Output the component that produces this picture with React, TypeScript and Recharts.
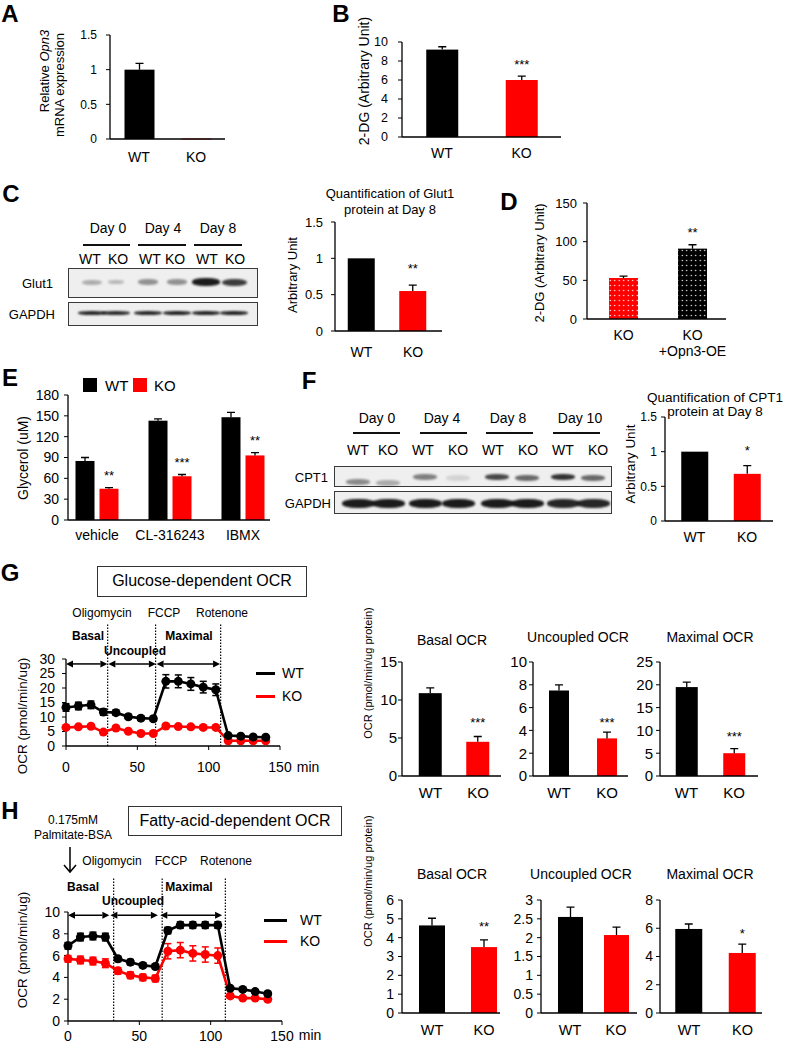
import React from 'react'
import { BarChart, Bar, XAxis, YAxis, LineChart, Line, ErrorBar, ReferenceLine } from 'recharts'

const FONT = '"Liberation Sans", Arial, Helvetica, sans-serif'
const RED = '#ff0000'
const BLACK = '#000000'

// ---------- data ----------
const genotypes = ['WT', 'KO']
const genoFills = [BLACK, RED]

// A
const opn3Values = [1.0, 0.006]
const opn3Errors = [0.09, 0]
const opn3Sig = ['', '']
const ticksA = [0, 0.5, 1, 1.5]

// B
const dgValues = [9.2, 6.0]
const dgErrors = [0.3, 0.4]
const dgSig = ['', '***']
const ticksB = [0, 2, 4, 6, 8, 10]

// C
const glut1Days = ['Day 0', 'Day 4', 'Day 8']
const glut1Values = [1.0, 0.55]
const glut1Errors = [0, 0.08]
const glut1Sig = ['', '**']
const glut1Bands = [0.3, 0.25, 0.42, 0.42, 0.95, 0.8]
const gapdhBandsC = [0.9, 0.88, 0.9, 0.92, 0.92, 0.92]

// D
const oeGroups = ['KO', 'KO\n+Opn3-OE']
const oeValues = [53, 91]
const oeErrors = [2.5, 5]
const oeSig = ['', '**']
const ticksD = [0, 50, 100, 150]

// E
const treatments = ['vehicle', 'CL-316243', 'IBMX']
const glycerolWT = [85, 143, 148]
const glycerolWTErr = [5, 2.5, 7]
const glycerolKO = [45, 63, 93]
const glycerolKOErr = [1.5, 2.5, 4]
const glycerolSig = ['**', '***', '**']
const ticksE = [0, 30, 60, 90, 120, 150, 180]

// F
const cpt1Days = ['Day 0', 'Day 4', 'Day 8', 'Day 10']
const cpt1Values = [1.0, 0.68]
const cpt1Errors = [0, 0.12]
const cpt1Sig = ['', '*']
const cpt1Bands = [0.45, 0.3, 0.5, 0.12, 0.75, 0.6, 0.85, 0.6]
const gapdhBandsF = [0.95, 0.95, 0.95, 0.95, 0.95, 0.95, 0.9, 0.9]

// G / H time course
const injections = ['Oligomycin', 'FCCP', 'Rotenone']
const phases = ['Basal', 'Uncoupled', 'Maximal']
const minutes = [0, 8.7, 17.5, 26.2, 35, 43.7, 52.5, 61.2, 70, 78.7, 87.5, 96.2, 105, 113.7, 122.5, 131.2, 140]
const ticksTime = [0, 50, 100, 150]

const glcWT = [13.3, 13.8, 14.2, 11.7, 11.5, 10.1, 9.6, 9.4, 22.3, 22.3, 21.4, 20.3, 19.4, 3.6, 3.4, 3.1, 3.0]
const glcWTErr = [1.3, 1.3, 1.3, 1.1, 0.9, 0.8, 0.8, 0.8, 2.3, 2.2, 2.2, 2.0, 2.0, 0.6, 0.5, 0.5, 0.5]
const glcKO = [6.4, 6.6, 6.8, 4.8, 6.2, 5.1, 4.3, 4.3, 6.9, 6.7, 6.6, 6.4, 6.4, 1.8, 1.8, 1.8, 1.8]
const glcKOErr = [0.5, 0.5, 0.5, 0.5, 0.5, 0.5, 0.5, 0.5, 0.6, 0.6, 0.6, 0.6, 0.6, 0.4, 0.4, 0.4, 0.4]
const glcInjectAt = [29.2, 62.8, 108.4]
const glcPhaseSpans = [[0, 29], [29.7, 63], [63.5, 108]]
const ticksGline = [0, 5, 10, 15, 20, 25, 30]

const glcBasal = [10.9, 4.5]
const glcBasalErr = [0.7, 0.7]
const glcUncoupled = [7.5, 3.3]
const glcUncoupledErr = [0.5, 0.55]
const glcMaximal = [19.5, 5.0]
const glcMaximalErr = [1.1, 1.0]
const glcSig = ['', '***']

const faWT = [6.9, 7.7, 7.8, 7.7, 5.7, 5.4, 5.1, 5.0, 8.3, 8.8, 8.8, 8.8, 8.8, 3.0, 2.9, 2.7, 2.5]
const faWTErr = [0.3, 0.35, 0.35, 0.35, 0.25, 0.25, 0.2, 0.2, 0.3, 0.3, 0.3, 0.3, 0.3, 0.15, 0.15, 0.15, 0.15]
const faKO = [5.7, 5.6, 5.5, 5.3, 4.6, 4.2, 4.0, 3.9, 6.4, 6.5, 6.2, 6.1, 6.0, 2.3, 2.1, 2.1, 2.0]
const faKOErr = [0.3, 0.35, 0.35, 0.4, 0.3, 0.3, 0.3, 0.3, 0.7, 0.7, 0.7, 0.7, 0.7, 0.2, 0.15, 0.15, 0.15]
const faInjectAt = [32, 66, 110.3]
const faPhaseSpans = [[0, 29], [29.7, 63], [64.7, 108]]
const ticksHline = [0, 2, 4, 6, 8, 10]

const faBasal = [4.65, 3.5]
const faBasalErr = [0.38, 0.38]
const faUncoupled = [2.55, 2.07]
const faUncoupledErr = [0.26, 0.21]
const faMaximal = [5.95, 4.25]
const faMaximalErr = [0.35, 0.63]
const faSig = ['', '**']
const faSigUnc = ['', '']
const faSigMax = ['', '*']

const ticks15 = [0, 5, 10, 15]
const ticks10 = [0, 2, 4, 6, 8, 10]
const ticks25 = [0, 5, 10, 15, 20, 25]
const ticks6 = [0, 1, 2, 3, 4, 5, 6]
const ticks3 = [0, 0.5, 1, 1.5, 2, 2.5, 3]
const ticks8 = [0, 2, 4, 6, 8]

// ---------- helpers ----------
type Row = { name: string; value: number; err: number; sig: string; fill: string }

function makeRows(names: string[], values: number[], errs: number[], sigs: string[], fills: string[]): Row[] {
  return names.map((name, i) => ({ name, value: values[i], err: errs[i], sig: sigs[i], fill: fills[i] }))
}

function T({ x, y, s = 13, b = false, a = 'middle', r = false, children }: any) {
  const tx = a === 'middle' ? '-50%' : a === 'end' ? '-100%' : '0'
  return (
    <div
      style={{
        position: 'absolute',
        left: x,
        top: y,
        transform: `translate(${tx}, -50%)${r ? ' rotate(-90deg)' : ''}`,
        fontSize: s,
        fontWeight: b ? 700 : 400,
        lineHeight: 1,
        whiteSpace: 'nowrap',
      }}
    >
      {children}
    </div>
  )
}

function drawBar(valueKey: string, errKey: string, sigKey: string, fill: string | null, starGap: number) {
  return (p: any) => {
    const x = Number(p.x)
    const y = Number(p.y)
    const w = Number(p.width)
    const h = Number(p.height)
    const row = p.payload || {}
    const v = row[valueKey]
    const e = row[errKey] || 0
    const ePx = v > 0 ? (e / v) * h : 0
    const cx = x + w / 2
    const top = y - ePx
    return (
      <g>
        <rect x={x} y={y} width={w} height={Math.max(h, 0.8)} fill={fill ?? row.fill} />
        {e > 0 && (
          <path d={`M${cx},${y}V${top}M${cx - 4},${top}H${cx + 4}`} stroke="#000" strokeWidth={1.3} fill="none" />
        )}
        {row[sigKey] ? (
          <text x={cx} y={top - starGap + 7.5} textAnchor="middle" fontSize={13} fill="#000" fontFamily={FONT}>
            {row[sigKey]}
          </text>
        ) : null}
      </g>
    )
  }
}

const multiTick = (size: number) => (p: any) => {
  const lines = String(p.payload.value).split('\n')
  return (
    <text x={p.x} y={p.y} textAnchor="middle" fontSize={size} fill="#000" fontFamily={FONT}>
      {lines.map((l, i) => (
        <tspan key={i} x={p.x} dy={i === 0 ? '0.71em' : '1.15em'}>
          {l}
        </tspan>
      ))}
    </text>
  )
}

const axisStyle = { stroke: '#000', strokeWidth: 1.3 }

function BarPanel({ plot, centers, rows, domain, ticks, barSize, tickFont = 12, tickGap = 10, catFont = 14, catGap = 11, starGap = 15, defs = null }: any) {
  const [x0, x1, y0, y1] = plot
  const YW = 60, TOP = 30, RIGHT = 24, XH = 46
  const step = (centers[1] - centers[0]) / (rows.length - 1)
  const start = centers[0] - step / 2
  const padL = start - x0
  const padR = x1 - (start + step * rows.length)
  return (
    <div style={{ position: 'absolute', left: x0 - YW, top: y0 - TOP }}>
      <BarChart width={x1 - x0 + YW + RIGHT} height={y1 - y0 + TOP + XH} data={rows} margin={{ top: TOP, right: RIGHT, bottom: 0, left: 0 }}>
        {defs}
        <XAxis dataKey="name" interval={0} tickLine={false} tickSize={0} tickMargin={catGap} axisLine={axisStyle} padding={{ left: padL, right: padR }} height={XH} tick={multiTick(catFont)} />
        <YAxis type="number" width={YW} domain={domain} ticks={ticks} interval={0} tickSize={4} tickMargin={tickGap - 4} axisLine={axisStyle} tickLine={{ stroke: '#000' }} tick={{ fill: '#000', fontSize: tickFont, fontFamily: FONT }} />
        <Bar dataKey="value" barSize={barSize} isAnimationActive={false} shape={drawBar('value', 'err', 'sig', null, starGap)} />
      </BarChart>
    </div>
  )
}

function GlycerolPanel() {
  const rows = treatments.map((name, i) => ({
    name,
    wt: glycerolWT[i],
    wtE: glycerolWTErr[i],
    ko: glycerolKO[i],
    koE: glycerolKOErr[i],
    sig: glycerolSig[i],
  }))
  const [x0, x1, y0, y1] = [68, 270, 395, 520]
  const centers = [97, 243]
  const YW = 60, TOP = 30, RIGHT = 24, XH = 46
  const step = (centers[1] - centers[0]) / (rows.length - 1)
  const start = centers[0] - step / 2
  return (
    <div style={{ position: 'absolute', left: x0 - YW, top: y0 - TOP }}>
      <BarChart width={x1 - x0 + YW + RIGHT} height={y1 - y0 + TOP + XH} data={rows} barGap={5} margin={{ top: TOP, right: RIGHT, bottom: 0, left: 0 }}>
        <XAxis dataKey="name" interval={0} tickLine={false} tickSize={0} tickMargin={10} axisLine={axisStyle} padding={{ left: start - x0, right: x1 - (start + step * rows.length) }} height={XH} tick={multiTick(14)} />
        <YAxis type="number" width={YW} domain={[0, 180]} ticks={ticksE} interval={0} tickSize={4} tickMargin={5} axisLine={axisStyle} tickLine={{ stroke: '#000' }} tick={{ fill: '#000', fontSize: 14, fontFamily: FONT }} />
        <Bar dataKey="wt" barSize={19} isAnimationActive={false} shape={drawBar('wt', 'wtE', 'none', BLACK, 0)} />
        <Bar dataKey="ko" barSize={19} isAnimationActive={false} shape={drawBar('ko', 'koE', 'sig', RED, 15)} />
      </BarChart>
    </div>
  )
}

const ArrowShape = (p: any) => {
  const x1 = Number(p.x1)
  const x2 = Number(p.x2)
  const y = Number(p.y1)
  const L = 7
  const W = 3.5
  return (
    <g>
      <line x1={x1 + L} x2={x2 - L} y1={y} y2={y} stroke="#000" strokeWidth={1.5} />
      <path d={`M${x1},${y}L${x1 + L},${y - W}L${x1 + L},${y + W}Z M${x2},${y}L${x2 - L},${y - W}L${x2 - L},${y + W}Z`} fill="#000" />
    </g>
  )
}

function OcrPanel({ plot, wt, wtErr, ko, koErr, domain, ticks, yGap, xGap, marks, markTop, spans, arrowY }: any) {
  const [x0, x1, y0, y1] = plot
  const YW = 50, TOP = 45, RIGHT = 20, XH = 40
  const rows = minutes.map((t, i) => ({ t, wt: wt[i], wtE: wtErr[i], ko: ko[i], koE: koErr[i] }))
  return (
    <div style={{ position: 'absolute', left: x0 - YW, top: y0 - TOP }}>
      <LineChart width={x1 - x0 + YW + RIGHT} height={y1 - y0 + TOP + XH} data={rows} margin={{ top: TOP, right: RIGHT, bottom: 0, left: 0 }}>
        <XAxis type="number" dataKey="t" domain={[0, 150]} ticks={ticksTime} interval={0} tickSize={4} tickMargin={xGap} height={XH} axisLine={axisStyle} tickLine={{ stroke: '#000' }} tick={{ fill: '#000', fontSize: 14, fontFamily: FONT }} />
        <YAxis type="number" width={YW} domain={domain} ticks={ticks} interval={0} tickSize={4} tickMargin={yGap - 4} axisLine={axisStyle} tickLine={{ stroke: '#000' }} tick={{ fill: '#000', fontSize: 14, fontFamily: FONT }} />
        {marks.map((m: number, i: number) => (
          <ReferenceLine key={'m' + i} segment={[{ x: m, y: 0 }, { x: m, y: markTop }]} ifOverflow="visible" stroke="#000" strokeWidth={1.2} strokeDasharray="1.5 1.5" />
        ))}
        {spans.map((s: number[], i: number) => (
          <ReferenceLine key={'a' + i} segment={[{ x: s[0], y: arrowY }, { x: s[1], y: arrowY }]} ifOverflow="visible" shape={ArrowShape} />
        ))}
        <Line dataKey="ko" stroke={RED} strokeWidth={2.6} dot={{ r: 4.5, fill: RED, stroke: RED, strokeWidth: 0 }} isAnimationActive={false}>
          <ErrorBar dataKey="koE" width={3.5} stroke={RED} strokeWidth={1.5} direction="y" />
        </Line>
        <Line dataKey="wt" stroke={BLACK} strokeWidth={2.6} dot={{ r: 4.5, fill: BLACK, stroke: BLACK, strokeWidth: 0 }} isAnimationActive={false}>
          <ErrorBar dataKey="wtE" width={3.5} stroke={BLACK} strokeWidth={1.5} direction="y" />
        </Line>
      </LineChart>
    </div>
  )
}

function Blot({ box, centers, ys, widths, heights, levels }: any) {
  const [x, y, w, h] = box
  return (
    <>
      <div style={{ position: 'absolute', left: x, top: y, width: w, height: h, boxSizing: 'border-box', border: '1.5px solid #3a3a3a', background: '#efefef' }} />
      {levels.map((lv: number, i: number) => (
        <div
          key={i}
          style={{
            position: 'absolute',
            left: centers[i] - widths[i] / 2,
            top: ys[i] - heights[i] / 2,
            width: widths[i],
            height: heights[i],
            background: `rgba(15,15,15,${lv})`,
            borderRadius: '45%',
            filter: 'blur(1.3px)',
          }}
        />
      ))}
    </>
  )
}

function Underline({ x0, x1, y }: any) {
  return <div style={{ position: 'absolute', left: x0, top: y - 1, width: x1 - x0, height: 2, background: '#111' }} />
}

const dotDefs = (
  <defs>
    <pattern id="dotRed" width="4.5" height="5" patternUnits="userSpaceOnUse">
      <rect width="4.5" height="5" fill={RED} />
      <circle cx="2.25" cy="2.5" r="0.7" fill="#fff" />
    </pattern>
    <pattern id="dotBlack" width="4.5" height="5" patternUnits="userSpaceOnUse">
      <rect width="4.5" height="5" fill={BLACK} />
      <circle cx="2.25" cy="2.5" r="0.7" fill="#fff" />
    </pattern>
  </defs>
)

export default function App() {
  const laneC = [92, 116, 148, 177, 206, 234]
  const laneF = [358, 388, 425, 458, 497, 527, 563, 593]
  const laneLabelsC = [90, 118, 150, 175, 207, 235]
  const laneLabelsF = [358, 388, 423, 458, 493, 528, 563, 598]
  return (
    <div style={{ position: 'absolute', left: 0, top: 0, width: 787, height: 1043, background: '#fff', overflow: 'hidden', fontFamily: FONT, color: '#000' }}>
      {/* panel letters */}
      <T x={10} y={13.5} s={24} b>A</T>
      <T x={341} y={13.5} s={24} b>B</T>
      <T x={11} y={194} s={24} b>C</T>
      <T x={509} y={202} s={24} b>D</T>
      <T x={10} y={378} s={24} b>E</T>
      <T x={309} y={381} s={24} b>F</T>
      <T x={10} y={573} s={24} b>G</T>
      <T x={10} y={811} s={24} b>H</T>

      {/* A */}
      <BarPanel plot={[110, 225, 35, 139]} centers={[139, 196]} rows={makeRows(genotypes, opn3Values, opn3Errors, opn3Sig, genoFills)} domain={[0, 1.5]} ticks={ticksA} barSize={30} tickFont={12} tickGap={13} catGap={13} />
      <T x={43.5} y={71} r>Relative <i>Opn3</i></T>
      <T x={59} y={85} r>mRNA expression</T>

      {/* B */}
      <BarPanel plot={[402, 561, 42, 137]} centers={[442, 521.5]} rows={makeRows(genotypes, dgValues, dgErrors, dgSig, genoFills)} domain={[0, 10]} ticks={ticksB} barSize={32} tickFont={12.5} tickGap={14} catGap={11} starGap={15} />
      <T x={364} y={81} s={14} r>2-DG (Arbitrary Unit)</T>

      {/* C blot */}
      {glut1Days.map((d, i) => (
        <T key={d} x={[108, 163, 218][i]} y={228} s={14}>{d}</T>
      ))}
      <Underline x0={83} x1={130} y={245} />
      <Underline x0={138} x1={186} y={245} />
      <Underline x0={194} x1={242} y={245} />
      {laneLabelsC.map((x, i) => (
        <T key={i} x={x} y={259} s={14}>{genotypes[i % 2]}</T>
      ))}
      <Blot box={[68, 268, 190, 30]} centers={laneC} ys={laneC.map(() => 282)} widths={[20, 16, 20, 20, 28, 25]} heights={[5, 4, 6, 6, 8, 7]} levels={glut1Bands} />
      <Blot box={[68, 302, 190, 24]} centers={laneC} ys={laneC.map(() => 313)} widths={laneC.map(() => 28)} heights={laneC.map(() => 4)} levels={gapdhBandsC} />
      <T x={53} y={283} a="end">Glut1</T>
      <T x={55} y={314} a="end">GAPDH</T>

      {/* C quant */}
      <BarPanel plot={[335, 442, 222, 331]} centers={[361.5, 413]} rows={makeRows(genotypes, glut1Values, glut1Errors, glut1Sig, genoFills)} domain={[0, 1.5]} ticks={ticksA} barSize={27} tickFont={13} tickGap={12} catGap={16} starGap={20} />
      <T x={390} y={193}>Quantification of Glut1</T>
      <T x={390} y={209}>protein at Day 8</T>
      <T x={292} y={275} r>Arbitrary Unit</T>

      {/* D */}
      <BarPanel plot={[587, 726, 203, 319]} centers={[623.5, 692.5]} rows={makeRows(oeGroups, oeValues, oeErrors, oeSig, ['url(#dotRed)', 'url(#dotBlack)'])} domain={[0, 150]} ticks={ticksD} barSize={29} tickFont={13} tickGap={10} catGap={11} starGap={15} defs={dotDefs} />
      <T x={539} y={263} r>2-DG (Arbitrary Unit)</T>

      {/* E */}
      <GlycerolPanel />
      <div style={{ position: 'absolute', left: 83, top: 378, width: 14, height: 14, background: BLACK }} />
      <T x={105} y={385} s={15} a="start">WT</T>
      <div style={{ position: 'absolute', left: 133, top: 378, width: 14, height: 14, background: RED }} />
      <T x={154} y={385} s={15} a="start">KO</T>
      <T x={23} y={458} s={14} r>Glycerol (uM)</T>

      {/* F blot */}
      {cpt1Days.map((d, i) => (
        <T key={d} x={[377, 442, 508, 580][i]} y={418} s={14}>{d}</T>
      ))}
      <Underline x0={353} x1={400} y={433} />
      <Underline x0={420} x1={467} y={433} />
      <Underline x0={486} x1={533} y={433} />
      <Underline x0={553} x1={600} y={433} />
      {laneLabelsF.map((x, i) => (
        <T key={i} x={x} y={450} s={14}>{genotypes[i % 2]}</T>
      ))}
      <Blot box={[334, 466, 278, 21]} centers={laneF} ys={[482, 483, 477, 478, 477, 478, 477, 478]} widths={laneF.map(() => 24)} heights={laneF.map(() => 6)} levels={cpt1Bands} />
      <Blot box={[334, 491, 278, 23]} centers={laneF} ys={laneF.map(() => 503)} widths={laneF.map(() => 33)} heights={laneF.map(() => 9)} levels={gapdhBandsF} />
      <T x={328} y={477} a="end">CPT1</T>
      <T x={331} y={503} a="end">GAPDH</T>

      {/* F quant */}
      <BarPanel plot={[665, 773, 417, 521]} centers={[694.5, 747]} rows={makeRows(genotypes, cpt1Values, cpt1Errors, cpt1Sig, genoFills)} domain={[0, 1.5]} ticks={ticksA} barSize={27} tickFont={12} tickGap={8} catGap={11} starGap={18} />
      <T x={715} y={398} s={13.5}>Quantification of CPT1</T>
      <T x={715} y={412} s={13.5}>protein at Day 8</T>
      <T x={631} y={464} s={13.5} r>Arbitrary Unit</T>

      {/* G */}
      <div style={{ position: 'absolute', left: 97, top: 566, width: 210, height: 31, boxSizing: 'border-box', border: '1.5px solid #333' }} />
      <T x={202} y={581} s={16}>Glucose-dependent OCR</T>
      {injections.map((s, i) => (
        <T key={s} x={[102, 164, 222][i]} y={613} s={12}>{s}</T>
      ))}
      <T x={88} y={636} s={12} b>{phases[0]}</T>
      <T x={135} y={651} s={12} b>{phases[1]}</T>
      <T x={189} y={636} s={12} b>{phases[2]}</T>
      <OcrPanel plot={[66, 280, 659, 746]} wt={glcWT} wtErr={glcWTErr} ko={glcKO} koErr={glcKOErr} domain={[0, 30]} ticks={ticksGline} yGap={11} xGap={12} marks={glcInjectAt} markTop={42} spans={glcPhaseSpans} arrowY={28.3} />
      <T x={23} y={716} s={13.5} r>OCR (pmol/min/ug)</T>
      <T x={308} y={767} s={14}>min</T>
      <div style={{ position: 'absolute', left: 256, top: 671.5, width: 19, height: 3.5, background: BLACK }} />
      <T x={282} y={673} s={14} a="start">WT</T>
      <div style={{ position: 'absolute', left: 256, top: 694.5, width: 19, height: 3.5, background: RED }} />
      <T x={282} y={696} s={14} a="start">KO</T>

      <BarPanel plot={[402, 501, 662, 776]} centers={[430.5, 478]} rows={makeRows(genotypes, glcBasal, glcBasalErr, glcSig, genoFills)} domain={[0, 15]} ticks={ticks15} barSize={23} tickFont={15} tickGap={5} catFont={15} catGap={11} starGap={17} />
      <BarPanel plot={[533, 628, 662, 776]} centers={[559, 607]} rows={makeRows(genotypes, glcUncoupled, glcUncoupledErr, glcSig, genoFills)} domain={[0, 10]} ticks={ticks10} barSize={20} tickFont={15} tickGap={6} catFont={15} catGap={11} starGap={13} />
      <BarPanel plot={[660, 758, 662, 776]} centers={[686.5, 734]} rows={makeRows(genotypes, glcMaximal, glcMaximalErr, glcSig, genoFills)} domain={[0, 25]} ticks={ticks25} barSize={22} tickFont={15} tickGap={7} catFont={15} catGap={11} starGap={15} />
      <T x={452} y={640} s={14}>Basal OCR</T>
      <T x={578} y={637} s={14}>Uncoupled OCR</T>
      <T x={710} y={637} s={14}>Maximal OCR</T>
      <T x={368} y={673} s={11} r>OCR (pmol/min/ug protein)</T>

      {/* H */}
      <div style={{ position: 'absolute', left: 128, top: 806, width: 214, height: 30, boxSizing: 'border-box', border: '1.5px solid #333' }} />
      <T x={235} y={821} s={16}>Fatty-acid-dependent OCR</T>
      <T x={73} y={820} s={12}>0.175mM</T>
      <T x={73} y={835} s={12}>Palmitate-BSA</T>
      <svg style={{ position: 'absolute', left: 62, top: 845 }} width={16} height={30}>
        <path d="M8,2V27M2,20L8,27L14,20" stroke="#000" strokeWidth={1.5} fill="none" />
      </svg>
      {injections.map((s, i) => (
        <T key={s} x={[112, 171, 226][i]} y={861} s={12}>{s}</T>
      ))}
      <T x={83} y={887} s={12} b>{phases[0]}</T>
      <T x={133} y={901} s={12} b>{phases[1]}</T>
      <T x={189} y={887} s={12} b>{phases[2]}</T>
      <OcrPanel plot={[68, 282, 912, 1021]} wt={faWT} wtErr={faWTErr} ko={faKO} koErr={faKOErr} domain={[0, 10]} ticks={ticksHline} yGap={8} xGap={6} marks={faInjectAt} markTop={13.2} spans={faPhaseSpans} arrowY={9.7} />
      <T x={23} y={950} s={13.5} r>OCR (pmol/min/ug)</T>
      <T x={310} y={1035} s={14}>min</T>
      <div style={{ position: 'absolute', left: 264, top: 918.5, width: 23, height: 3.5, background: BLACK }} />
      <T x={300} y={920} s={14} a="start">WT</T>
      <div style={{ position: 'absolute', left: 264, top: 939.5, width: 23, height: 3.5, background: RED }} />
      <T x={300} y={941} s={14} a="start">KO</T>

      <BarPanel plot={[402, 500, 900, 1013]} centers={[432, 484]} rows={makeRows(genotypes, faBasal, faBasalErr, faSig, genoFills)} domain={[0, 6]} ticks={ticks6} barSize={26} tickFont={14} tickGap={8} catFont={14.5} catGap={12} starGap={16} />
      <BarPanel plot={[541, 637, 900, 1013]} centers={[570, 616]} rows={makeRows(genotypes, faUncoupled, faUncoupledErr, faSigUnc, genoFills)} domain={[0, 3]} ticks={ticks3} barSize={25} tickFont={14} tickGap={8} catFont={14.5} catGap={12} starGap={16} />
      <BarPanel plot={[660, 762, 900, 1013]} centers={[689, 742.5]} rows={makeRows(genotypes, faMaximal, faMaximalErr, faSigMax, genoFills)} domain={[0, 8]} ticks={ticks8} barSize={27} tickFont={14} tickGap={7} catFont={14.5} catGap={12} starGap={14} />
      <T x={452} y={874} s={14}>Basal OCR</T>
      <T x={581} y={874} s={14}>Uncoupled OCR</T>
      <T x={710} y={874} s={14}>Maximal OCR</T>
      <T x={368} y={881} s={11} r>OCR (pmol/min/ug protein)</T>
    </div>
  )
}
